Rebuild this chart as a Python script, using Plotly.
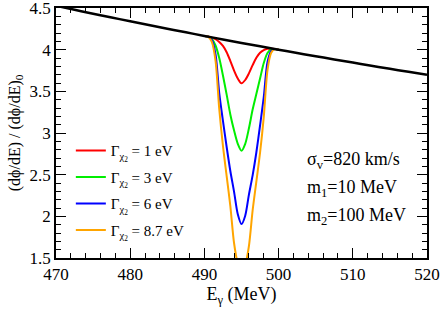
import plotly.graph_objects as go

# Background (no absorption) curve
e_bg = [470, 472.5, 475, 477.5, 480, 482.5, 485, 487.5, 490, 492.5, 495,
        497.5, 500, 502.5, 505, 507.5, 510, 512.5, 515, 517.5, 520]
y_bg = [4.527, 4.479, 4.432, 4.386, 4.340, 4.295, 4.251, 4.208, 4.165, 4.123, 4.081,
        4.041, 4.000, 3.960, 3.921, 3.883, 3.845, 3.807, 3.770, 3.734, 3.698]

# Dip region energies
e_dip = [490, 490.5, 491, 491.5, 492, 492.5, 493, 493.5, 494, 494.5, 495,
         495.5, 496, 496.5, 497, 497.5, 498, 498.5, 499, 499.5, 500]

y_g1 = [4.165, 4.157, 4.143, 4.125, 4.092, 4.045, 3.969, 3.863, 3.749, 3.653, 3.596,
        3.636, 3.716, 3.814, 3.903, 3.963, 3.994, 4.010, 4.011, 4.008, 4.000]
y_g3 = [4.165, 4.157, 4.130, 4.050, 3.900, 3.690, 3.460, 3.220, 3.030, 2.870, 2.787,
        2.870, 3.056, 3.281, 3.467, 3.653, 3.839, 3.960, 4.003, 4.008, 4.000]
y_g6 = [4.165, 4.157, 4.115, 3.944, 3.479, 3.145, 2.832, 2.541, 2.294, 2.025, 1.907,
        2.008, 2.261, 2.492, 2.766, 3.090, 3.430, 3.850, 3.983, 4.008, 4.000]
y_g87 = [4.165, 4.157, 4.094, 3.868, 3.288, 2.845, 2.483, 2.120, 1.677, 1.438, 1.361,
         1.421, 1.644, 2.071, 2.417, 2.763, 3.190, 3.753, 3.962, 4.008, 4.000]

labels = ["Γ<sub>χ<sub>2</sub></sub> = 1 eV", "Γ<sub>χ<sub>2</sub></sub> = 3 eV",
          "Γ<sub>χ<sub>2</sub></sub> = 6 eV", "Γ<sub>χ<sub>2</sub></sub> = 8.7 eV"]
colors = ["#ff0000", "#00ee00", "#0000ff", "#ffa500"]
series = [y_g1, y_g3, y_g6, y_g87]

x_ticks = [470, 480, 490, 500, 510, 520]
y_ticks = [1.5, 2, 2.5, 3, 3.5, 4, 4.5]
y_ticklabels = ["1.5", "2", "2.5", "3", "3.5", "4", "4.5"]

FONT = "'Liberation Serif', 'Times New Roman', 'DejaVu Serif', serif"

fig = go.Figure()
for i, (ys, lab, col) in enumerate(zip(series, labels, colors)):
    fig.add_trace(go.Scatter(x=e_dip, y=ys, mode="lines", name=lab, legendgroup=f"g{i}",
                             line=dict(color=col, width=2, shape="spline", smoothing=0.8)))
fig.add_trace(go.Scatter(x=e_bg, y=y_bg, mode="lines", showlegend=False,
                         line=dict(color="black", width=2.5, shape="spline")))

axis_common = dict(showline=True, linecolor="black", linewidth=1.5, mirror="ticks",
                   ticks="inside", tickcolor="black", tickwidth=1.3, ticklen=10,
                   showgrid=False, zeroline=False, automargin=False,
                   ticklabeloverflow="allow",
                   tickfont=dict(family=FONT, size=17, color="black"))

fig.update_xaxes(range=[470, 520], tickvals=x_ticks,
                 minor=dict(dtick=2, ticks="inside", ticklen=5, tickcolor="black", tickwidth=1.2),
                 title=dict(text="E<sub>γ</sub> (MeV)", font=dict(family=FONT, size=18, color="black"),
                            standoff=1),
                 **axis_common)
fig.update_yaxes(range=[1.5, 4.5], tickvals=y_ticks, ticktext=y_ticklabels,
                 minor=dict(dtick=0.1, ticks="inside", ticklen=5, tickcolor="black", tickwidth=1.2),
                 title=dict(text="(dϕ/dE) / (dϕ/dE)<sub>0</sub>",
                            font=dict(family=FONT, size=16, color="black"), standoff=5),
                 **axis_common)

ann_font = dict(family=FONT, size=18, color="black")
fig.add_annotation(x=0.672, y=0.392, xref="paper", yref="paper", xanchor="left", yanchor="middle",
                   text="σ<sub>v</sub>=820 km/s", showarrow=False, font=ann_font)
fig.add_annotation(x=0.672, y=0.28, xref="paper", yref="paper", xanchor="left", yanchor="middle",
                   text="m<sub>1</sub>=10 MeV", showarrow=False, font=ann_font)
fig.add_annotation(x=0.672, y=0.168, xref="paper", yref="paper", xanchor="left", yanchor="middle",
                   text="m<sub>2</sub>=100 MeV", showarrow=False, font=ann_font)

fig.update_layout(width=443, height=310, margin=dict(l=56, r=16, t=8, b=52),
                  paper_bgcolor="white", plot_bgcolor="white",
                  legend=dict(x=0.04, y=0.495, xanchor="left", yanchor="top",
                              bgcolor="rgba(0,0,0,0)", itemwidth=30, tracegroupgap=4,
                              font=dict(family=FONT, size=15, color="black")))

fig.write_html("out.html", post_script="document.body.style.margin='0';",
               config={"displayModeBar": False})
